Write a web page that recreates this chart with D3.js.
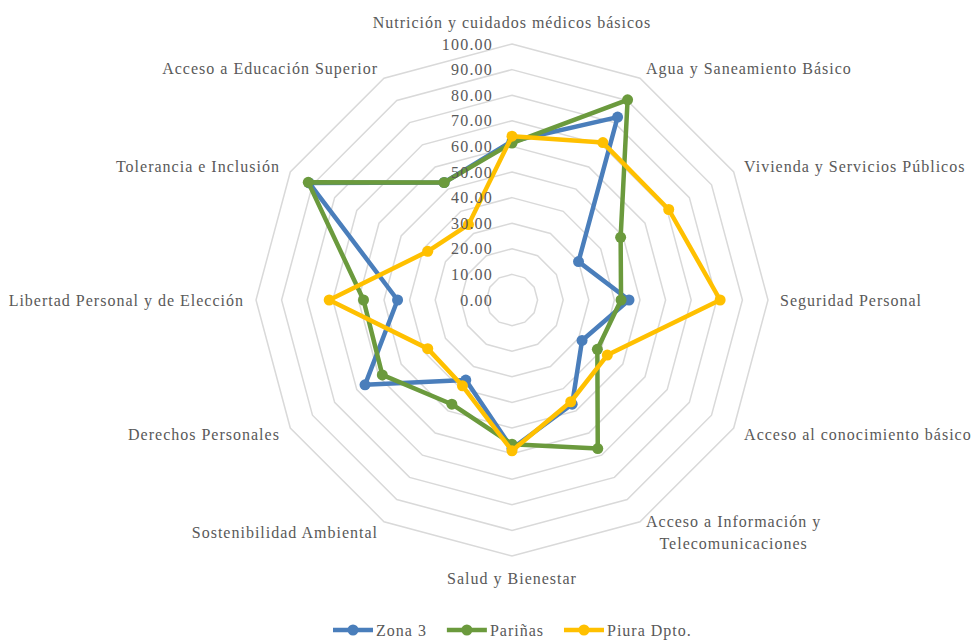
<!doctype html>
<html>
<head>
<meta charset="utf-8">
<script src="https://d3js.org/d3.v7.min.js"></script>
<style>
  body { margin: 0; background: #fff; }
  text { font-family: "Liberation Serif", "Times New Roman", serif; fill: #595959; }
</style>
</head>
<body>
<svg id="chart" width="980" height="644"></svg>
<script>
// data
var categories = [
  "Nutrición y cuidados médicos básicos",
  "Agua y Saneamiento Básico",
  "Vivienda y Servicios Públicos",
  "Seguridad Personal",
  "Acceso al conocimiento básico",
  "Acceso a Información y\nTelecomunicaciones",
  "Salud y Bienestar",
  "Sostenibilidad Ambiental",
  "Derechos Personales",
  "Libertad Personal y de Elección",
  "Tolerancia e Inclusión",
  "Acceso a Educación Superior"
];
var zona3   = [62.0, 82.5, 30.0, 45.7, 31.6, 47.0, 58.0, 36.1, 66.3, 44.7, 91.5, 53.0];
var parinas = [61.3, 90.3, 49.0, 42.6, 38.5, 67.0, 56.3, 47.0, 58.5, 58.0, 91.9, 53.0];
var piura   = [64.0, 71.0, 70.7, 81.3, 43.0, 45.9, 58.9, 38.7, 38.0, 71.4, 38.0, 34.0];
var seriesNames = ["Zona 3", "Pariñas", "Piura Dpto."];
var ticks = [0, 10, 20, 30, 40, 50, 60, 70, 80, 90, 100];

var series = [
  {name: seriesNames[0], values: zona3,   color: "#4a7ebb"},
  {name: seriesNames[1], values: parinas, color: "#6b9a3d"},
  {name: seriesNames[2], values: piura,   color: "#ffc000"}
];

var svg = d3.select("#chart");
var cx = 512, cy = 300, R = 256;

var r = d3.scaleLinear().domain([0, 100]).range([0, R]);
var angle = d3.scaleLinear().domain([0, categories.length]).range([0, 2 * Math.PI]);

function px(i, v) { return cx + r(v) * Math.sin(angle(i)); }
function py(i, v) { return cy - r(v) * Math.cos(angle(i)); }

var g = svg.append("g");

// grid rings
var ring = d3.line().x(function(d) { return d[0]; }).y(function(d) { return d[1]; }).curve(d3.curveLinearClosed);
g.selectAll(".ring")
  .data(ticks.filter(function(t) { return t > 0; }))
  .enter().append("path")
  .attr("d", function(t) {
    return ring(categories.map(function(c, i) { return [px(i, t), py(i, t)]; }));
  })
  .attr("fill", "none")
  .attr("stroke", "#d9d9d9")
  .attr("stroke-width", 1.5);

// series
var line = d3.line()
  .x(function(d, i) { return px(i, d); })
  .y(function(d, i) { return py(i, d); })
  .curve(d3.curveLinearClosed);

series.forEach(function(s) {
  var sg = g.append("g");
  sg.append("path")
    .attr("d", line(s.values))
    .attr("fill", "none")
    .attr("stroke", s.color)
    .attr("stroke-width", 4.5)
    .attr("stroke-linejoin", "round");
  sg.selectAll("circle")
    .data(s.values)
    .enter().append("circle")
    .attr("cx", function(d, i) { return px(i, d); })
    .attr("cy", function(d, i) { return py(i, d); })
    .attr("r", 5.5)
    .attr("fill", s.color);
});

// tick labels
g.selectAll(".tick")
  .data(ticks)
  .enter().append("text")
  .attr("x", cx - 19)
  .attr("y", function(t) { return cy - r(t); })
  .attr("dy", "0.35em")
  .attr("text-anchor", "end")
  .attr("font-size", 16)
  .attr("letter-spacing", 1.2)
  .text(function(t) { return d3.format(".2f")(t); });

// category labels
categories.forEach(function(c, i) {
  var a = angle(i);
  var s = Math.sin(a), co = Math.cos(a);
  var x = cx + (R + 12) * s;
  var y = cy - (R + 12) * co;
  if (Math.abs(s) < 0.1) y -= 10 * co;
  var anchor = s > 0.1 ? "start" : (s < -0.1 ? "end" : "middle");
  var lines = c.split("\n");
  var t = g.append("text")
    .attr("font-size", 16)
    .attr("letter-spacing", 1)
    .attr("text-anchor", lines.length > 1 ? "middle" : anchor);
  lines.forEach(function(l, k) {
    t.append("tspan").attr("x", x).attr("y", y + (k - (lines.length - 1) / 2) * 22).attr("dy", "0.35em").text(l);
  });
  if (lines.length > 1) {
    var w = 0;
    t.selectAll("tspan").each(function() { w = Math.max(w, this.getComputedTextLength()); });
    t.selectAll("tspan").attr("x", x + w / 2);
  }
});

// legend
var legend = svg.append("g").attr("transform", "translate(333,630)");
var lx = 0;
series.forEach(function(s) {
  var lg = legend.append("g").attr("transform", "translate(" + lx + ",0)");
  lg.append("line").attr("x1", 0).attr("x2", 40).attr("y1", 0).attr("y2", 0)
    .attr("stroke", s.color).attr("stroke-width", 4.5);
  lg.append("circle").attr("cx", 20).attr("cy", 0).attr("r", 5.5).attr("fill", s.color);
  var tx = lg.append("text").attr("x", 43).attr("y", 0).attr("dy", "0.35em")
    .attr("font-size", 16).attr("letter-spacing", 1).text(s.name);
  lx += 43 + tx.node().getComputedTextLength() + 20;
});
</script>
</body>
</html>
